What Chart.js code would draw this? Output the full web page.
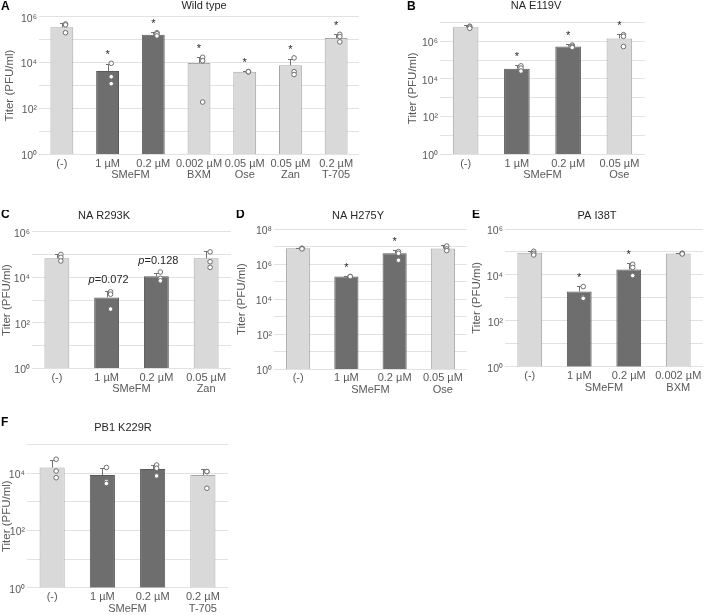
<!DOCTYPE html>
<html>
<head>
<meta charset="utf-8">
<script src="https://cdn.jsdelivr.net/npm/chart.js@4.4.1/dist/chart.umd.min.js"></script>
<style>
  body { margin: 0; background: #fff; }
  #wrap { position: relative; width: 708px; height: 615px; overflow: hidden; }
  canvas { position: absolute; }
</style>
</head>
<body>
<div id="wrap">
  <canvas id="pA"></canvas>
  <canvas id="pB"></canvas>
  <canvas id="pC"></canvas>
  <canvas id="pD"></canvas>
  <canvas id="pE"></canvas>
  <canvas id="pF"></canvas>
</div>
<script>
// SMeFM 两个浓度（深色柱）
const groupName = 'SMeFM';
const groupIdx = [1, 2];

// A: Wild type
const catsA = [['(-)', ''], ['1 µM', ''], ['0.2 µM', ''], ['0.002 µM', 'BXM'], ['0.05 µM', 'Ose'], ['0.05 µM', 'Zan'], ['0.2 µM', 'T-705']];
const meanA = [3.5e5, 4.3e3, 1.65e5, 9.5e3, 4.0e3, 7.6e3, 1.17e5];
const errA  = [5.1e5, 8.3e3, 2.1e5, 1.8e4, 4.3e3, 1.4e4, 1.75e5];
const ptsA  = [[4.8e5, 4.4e5, 2.0e5], [9.3e3, 2.4e3, 1.2e3], [2.0e5, 1.8e5, 1.45e5], [1.7e4, 1.2e4, 1.9e2],
               [4.0e3, 4.0e3, 4.0e3], [1.6e4, 4.0e3, 3.0e3], [1.7e5, 1.35e5, 8.0e4]];
const markA = ['', '*', '*', '*', '*', '*', '*'];

// B: NA E119V
const catsB = [['(-)', ''], ['1 µM', ''], ['0.2 µM', ''], ['0.05 µM', 'Ose']];
const meanB = [5.5e6, 3.4e4, 5.2e5, 1.4e6];
const errB  = [7.0e6, 5.3e4, 6.9e5, 2.3e6];
const ptsB  = [[6.2e6, 5.6e6, 4.8e6], [4.9e4, 3.7e4, 2.6e4], [6.2e5, 5.3e5, 4.6e5], [2.2e6, 1.8e6, 5.2e5]];
const markB = ['', '*', '*', '*'];

// C: NA R293K
const catsC = [['(-)', ''], ['1 µM', ''], ['0.2 µM', ''], ['0.05 µM', 'Zan']];
const meanC = [6.8e4, 1.3e3, 1.1e4, 6.8e4];
const errC  = [1.05e5, 2.4e3, 1.6e4, 1.4e5];
const ptsC  = [[1.0e5, 7.5e4, 5.2e4], [2.3e3, 1.8e3, 4.0e2], [1.7e4, 9.0e3, 7.0e3], [1.3e5, 4.8e4, 2.7e4]];
const markC = ['', 'p=0.072', 'p=0.128', ''];

// D: NA H275Y
const catsD = [['(-)', ''], ['1 µM', ''], ['0.2 µM', ''], ['0.05 µM', 'Ose']];
const meanD = [8.1e6, 1.95e5, 4.3e6, 8.0e6];
const errD  = [8.5e6, 2.1e5, 6.6e6, 1.25e7];
const ptsD  = [[8.2e6, 8.0e6, 7.6e6], [2.0e5, 1.9e5, 1.95e5], [5.3e6, 4.2e6, 1.7e6], [1.1e7, 7.5e6, 6.0e6]];
const markD = ['', '*', '*', ''];

// E: PA I38T
const catsE = [['(-)', ''], ['1 µM', ''], ['0.2 µM', ''], ['0.002 µM', 'BXM']];
const meanE = [9.3e4, 1.9e3, 1.7e4, 8.6e4];
const errE  = [1.1e5, 3.2e3, 3.2e4, 9.0e4];
const ptsE  = [[1.07e5, 8.7e4, 7.4e4], [3.1e3, 1.05e3, 9.5e2], [2.9e4, 2.1e4, 9.3e3], [8.8e4, 8.5e4, 8.2e4]];
const markE = ['', '*', '*', ''];

// F: PB1 K229R
const catsF = [['(-)', ''], ['1 µM', ''], ['0.2 µM', ''], ['0.2 µM', 'T-705']];
const meanF = [1.6e4, 8.7e3, 1.4e4, 8.7e3];
const errF  = [2.9e4, 1.5e4, 1.9e4, 1.4e4];
const ptsF  = [[3.1e4, 1.2e4, 7.0e3], [1.6e4, 5.1e3, 4.4e3], [1.95e4, 1.5e4, 8.1e3], [1.15e4, 1.15e4, 3.0e3]];
const markF = ['', '', '', ''];

const FONT = '"Liberation Sans", Arial, sans-serif';
const TEXT = '#595959';
const LIGHT = '#d9d9d9', LIGHT_EDGE = '#a6a6a6';
const DARK = '#6e6e6e', DARK_EDGE = '#595959';
const sup = ['⁰', '¹', '²', '³', '⁴', '⁵', '⁶', '⁷', '⁸'];
const TICK_PAD = 3.5, TICK_LH = 11.7;

// 每个面板：画布位置、绘图区位置（页面坐标）
const panels = [
  { id: 'pA', letter: 'A', title: 'Wild type', cats: catsA, means: meanA, errs: errA, pts: ptsA, marks: markA, maxExp: 6,
    box: [0, 0, 364, 190], area: [39, 16.7, 360, 154.3], titleAt: [204, 6], letterAt: [1, 7], yTitleX: 10 },
  { id: 'pB', letter: 'B', title: 'NA E119V', cats: catsB, means: meanB, errs: errB, pts: ptsB, marks: markB, maxExp: 7,
    box: [400, 0, 308, 190], area: [440, 22.3, 645, 154.3], titleAt: [536, 6], letterAt: [407, 7], yTitleX: 413 },
  { id: 'pC', letter: 'C', title: 'NA R293K', cats: catsC, means: meanC, errs: errC, pts: ptsC, marks: markC, maxExp: 6,
    box: [0, 210, 236, 195], area: [32, 231.7, 232, 368.3], titleAt: [104, 216], letterAt: [1, 215], yTitleX: 7 },
  { id: 'pD', letter: 'D', title: 'NA H275Y', cats: catsD, means: meanD, errs: errD, pts: ptsD, marks: markD, maxExp: 8,
    box: [234, 210, 238, 195], area: [274, 229.3, 470, 369], titleAt: [358, 216], letterAt: [236, 215], yTitleX: 242 },
  { id: 'pE', letter: 'E', title: 'PA I38T', cats: catsE, means: meanE, errs: errE, pts: ptsE, marks: markE, maxExp: 6,
    box: [470, 210, 238, 195], area: [505, 229, 706, 366.7], titleAt: [597, 216], letterAt: [472, 215], yTitleX: 477 },
  { id: 'pF', letter: 'F', title: 'PB1 K229R', cats: catsF, means: meanF, errs: errF, pts: ptsF, marks: markF, maxExp: 5,
    box: [0, 410, 236, 205], area: [27, 444.7, 228, 587.7], titleAt: [123, 428], letterAt: [1, 423], yTitleX: 7 }
];

// 误差线、星号、p值、分组标签、标题
function makeExtras(p) {
  const [bx, by] = p.box;
  return {
    id: 'extras_' + p.id,
    afterDatasetDraw(chart, args) {
      if (args.meta.type !== 'bar') return;
      const { ctx, scales: { x, y } } = chart;
      ctx.save();
      ctx.strokeStyle = '#737373';
      ctx.lineWidth = 1;
      p.means.forEach((m, i) => {
        const px = Math.round(x.getPixelForValue(i)) + 0.5;
        const y0 = y.getPixelForValue(m);
        const y1 = Math.round(y.getPixelForValue(p.errs[i])) + 0.5;
        ctx.beginPath();
        ctx.moveTo(px, y0);
        ctx.lineTo(px, y1);
        ctx.moveTo(px - 2.5, y1);
        ctx.lineTo(px + 2.5, y1);
        ctx.stroke();
      });
      ctx.restore();
    },
    afterDraw(chart) {
      const { ctx, scales: { x, y } } = chart;
      ctx.save();
      // 显著性标记
      ctx.fillStyle = '#262626';
      p.marks.forEach((m, i) => {
        if (!m) return;
        const top = Math.max(p.errs[i], ...p.pts[i]);
        const yy = y.getPixelForValue(top) - 11;
        const xx = x.getPixelForValue(i);
        if (m === '*') {
          ctx.font = `11px ${FONT}`;
          ctx.textAlign = 'center';
          ctx.textBaseline = 'alphabetic';
          ctx.fillText('*', xx, yy + 6);
        } else {
          const rest = m.slice(1);
          ctx.font = `italic 11px ${FONT}`;
          const wp = ctx.measureText('p').width;
          ctx.font = `11px ${FONT}`;
          const wr = ctx.measureText(rest).width;
          const x0 = xx + 2 - (wp + wr) / 2;
          ctx.textAlign = 'left';
          ctx.textBaseline = 'middle';
          ctx.font = `italic 11px ${FONT}`;
          ctx.fillText('p', x0, yy);
          ctx.font = `11px ${FONT}`;
          ctx.fillText(rest, x0 + wp, yy);
        }
      });
      // SMeFM 分组标签
      ctx.font = `11px ${FONT}`;
      ctx.fillStyle = TEXT;
      ctx.textAlign = 'center';
      ctx.textBaseline = 'middle';
      const gx = (x.getPixelForValue(groupIdx[0]) + x.getPixelForValue(groupIdx[1])) / 2;
      ctx.fillText(groupName, gx, x.top + TICK_PAD + TICK_LH * 1.5);
      // 标题
      ctx.fillStyle = '#262626';
      ctx.fillText(p.title, p.titleAt[0] - bx, p.titleAt[1] - by);
      // 面板字母
      ctx.font = `bold 12px ${FONT}`;
      ctx.fillStyle = '#000';
      ctx.textAlign = 'left';
      ctx.fillText(p.letter, p.letterAt[0] - bx, p.letterAt[1] - by);
      ctx.restore();
    }
  };
}

function buildPanel(p) {
  const [bx, by, bw, bh] = p.box;
  const [L, T, R, B] = p.area;
  const canvas = document.getElementById(p.id);
  canvas.width = bw;
  canvas.height = bh;
  canvas.style.left = bx + 'px';
  canvas.style.top = by + 'px';

  const yWidth = L - bx;
  const xHeight = 27;
  const n = p.cats.length;
  const yTitleSize = 11.5;

  const bars = p.means.map((m, i) => ({ x: i, y: m }));
  const scatter = [];
  p.pts.forEach((arr, i) => arr.forEach(v => scatter.push({ x: i + 0.08, y: v })));

  const decades = [];
  for (let k = 0; k <= p.maxExp; k++) decades.push(Math.pow(10, k));

  new Chart(canvas.getContext('2d'), {
    type: 'bar',
    data: {
      datasets: [
        {
          type: 'bar',
          data: bars,
          grouped: false,
          backgroundColor: p.means.map((_, i) => groupIdx.includes(i) ? DARK : LIGHT),
          borderColor: p.means.map((_, i) => groupIdx.includes(i) ? DARK_EDGE : LIGHT_EDGE),
          borderWidth: 1,
          barPercentage: 0.5,
          categoryPercentage: 1
        },
        {
          type: 'scatter',
          data: scatter,
          order: -1,
          pointRadius: 2.3,
          pointBackgroundColor: '#ffffff',
          pointBorderColor: '#6e6e6e',
          pointBorderWidth: 1
        }
      ]
    },
    options: {
      responsive: false,
      animation: false,
      events: [],
      layout: {
        padding: { left: 0, top: T - by, right: bx + bw - R, bottom: by + bh - B - xHeight }
      },
      plugins: { legend: { display: false }, tooltip: { enabled: false } },
      scales: {
        x: {
          type: 'linear',
          offset: false,
          min: -0.5,
          max: n - 0.5,
          afterBuildTicks: s => { s.ticks = p.cats.map((_, i) => ({ value: i })); },
          grid: { display: false, drawTicks: false },
          border: { display: false },
          ticks: {
            color: TEXT, padding: TICK_PAD, maxRotation: 0, autoSkip: false,
            font: { family: FONT, size: 11, lineHeight: TICK_LH / 11 },
            callback: v => p.cats[v]
          },
          afterFit: s => { s.height = xHeight; }
        },
        y: {
          type: 'logarithmic',
          min: 1,
          max: Math.pow(10, p.maxExp),
          afterBuildTicks: s => { s.ticks = decades.map(v => ({ value: v })); },
          grid: { color: '#e2e2e2', drawTicks: false },
          border: { display: false },
          ticks: {
            color: TEXT, padding: 2, labelOffset: 2,
            font: { family: FONT, size: 10.5 },
            callback: v => {
              const k = Math.round(Math.log10(v));
              return k % 2 === 0 ? '10' + sup[k] : '';
            }
          },
          title: {
            display: true,
            text: 'Titer (PFU/ml)',
            color: TEXT,
            font: { family: FONT, size: yTitleSize, lineHeight: 1 },
            padding: { top: Math.max(0, p.yTitleX - bx - yTitleSize / 2), bottom: 0 }
          },
          afterFit: s => { s.width = yWidth; }
        }
      }
    },
    plugins: [makeExtras(p)]
  });
}

panels.forEach(buildPanel);
</script>
</body>
</html>
